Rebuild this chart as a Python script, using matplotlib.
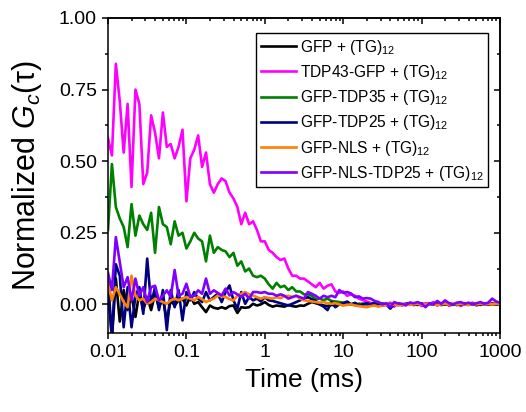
import numpy as np
import matplotlib
matplotlib.use("Agg")
import matplotlib.pyplot as plt
from matplotlib.ticker import MultipleLocator, FuncFormatter, FormatStrFormatter

plt.rcParams['font.family'] = ['Liberation Sans', 'DejaVu Sans']
plt.rcParams['mathtext.fontset'] = 'custom'
plt.rcParams['mathtext.rm'] = 'Liberation Sans'
plt.rcParams['mathtext.it'] = 'Liberation Sans:italic'

# lag time grid (ms), 20 points per decade from 0.01 to 1000 ms
tau = np.logspace(-2, 3, 101)

labels = ['GFP + (TG)$_{12}$', 'TDP43-GFP + (TG)$_{12}$', 'GFP-TDP35 + (TG)$_{12}$',
          'GFP-TDP25 + (TG)$_{12}$', 'GFP-NLS + (TG)$_{12}$', 'GFP-NLS-TDP25 + (TG)$_{12}$']
colors = ['#000000', '#FF00FF', '#008000', '#000080', '#FF8000', '#8000FF']

gfp = [0.06, -0.12, 0.09, -0.06, 0.05, -0.02, 0.03, -0.044, 0.043, -0.02,
       0.026, -0.02, 0.037, -0.01, 0.02, -0.056, 0.014, -0.004, 0.014, 0.02,
       -0.004, 0.03, 0.002, 0.008, -0.01, -0.027, -0.004, -0.012, -0.015, -0.01,
       -0.015, -0.006, -0.004, -0.03, -0.01, -0.012, -0.01, 0.002, -0.004, 0.0,
       0.008, -0.002, -0.008, -0.004, -0.006, -0.008, -0.002, -0.006, -0.008, -0.004,
       -0.005, 0.002, 0.008, 0.004, 0.0, -0.004, -0.006, -0.002, -0.004, 0.0,
       -0.002, 0.002, 0.0, -0.002, 0.002, 0.0, 0.002, -0.002, 0.0, 0.002,
       0.0, -0.002, 0.002, 0.0, 0.002, -0.002, 0.0, 0.002, 0.0, -0.002,
       0.002, 0.0, 0.002, 0.0, -0.002, 0.002, 0.0, 0.002, 0.0, -0.002,
       0.0, 0.002, 0.0, 0.002, -0.002, 0.0, 0.002, 0.0, 0.002, 0.0,
       0.002]

tdp43 = [0.58, 0.52, 0.84, 0.71, 0.53, 0.70, 0.41, 0.75, 0.70, 0.42,
         0.46, 0.66, 0.60, 0.51, 0.67, 0.55, 0.56, 0.51, 0.55, 0.61,
         0.36, 0.51, 0.54, 0.59, 0.48, 0.53, 0.42, 0.39, 0.42, 0.44,
         0.43, 0.39, 0.37, 0.34, 0.28, 0.32, 0.28, 0.29, 0.26, 0.22,
         0.22, 0.19, 0.18, 0.165, 0.155, 0.16, 0.125, 0.10, 0.10, 0.09,
         0.09, 0.08, 0.07, 0.06, 0.075, 0.055, 0.065, 0.07, 0.045, 0.04,
         0.045, 0.03, 0.035, 0.03, 0.02, 0.015, 0.01, 0.005, 0.0, 0.008,
         -0.005, 0.0, 0.006, -0.008, 0.004, 0.0, -0.004, 0.006, 0.0, 0.005,
         -0.006, 0.004, 0.0, 0.008, -0.004, 0.002, 0.006, -0.005, 0.0, 0.004,
         -0.006, 0.003, 0.0, 0.006, -0.004, 0.002, 0.004, -0.002, 0.003, 0.0,
         0.008]

tdp35 = [0.26, 0.49, 0.34, 0.30, 0.27, 0.20, 0.35, 0.24, 0.31, 0.28,
         0.26, 0.32, 0.18, 0.34, 0.28, 0.27, 0.21, 0.29, 0.24, 0.25,
         0.195, 0.22, 0.25, 0.23, 0.22, 0.15, 0.24, 0.18, 0.20, 0.19,
         0.185, 0.165, 0.18, 0.135, 0.15, 0.115, 0.125, 0.10, 0.095, 0.10,
         0.09, 0.07, 0.055, 0.075, 0.06, 0.065, 0.05, 0.06, 0.045, 0.045,
         0.035, 0.035, 0.03, 0.018, 0.02, 0.015, 0.02, 0.012, 0.01, 0.008,
         0.006, 0.004, 0.0, 0.005, -0.002, 0.003, 0.0, -0.003, 0.002, 0.0,
         0.003, -0.002, 0.0, 0.002, -0.003, 0.0, 0.002, 0.0, -0.002, 0.003,
         0.0, -0.002, 0.002, 0.0, 0.003, -0.002, 0.0, 0.002, 0.0, -0.002,
         0.002, 0.0, 0.003, 0.0, -0.002, 0.002, 0.0, 0.002, 0.0, 0.002,
         0.0]

tdp25 = [0.09, -0.12, 0.14, 0.10, -0.08, 0.06, -0.08, 0.03, 0.06, -0.033,
         0.16, 0.0, 0.06, -0.02, 0.05, -0.09, 0.05, -0.01, 0.05, -0.056,
         0.043, 0.014, 0.043, 0.02, 0.008, 0.043, 0.014, 0.026, 0.037, 0.008,
         0.043, 0.066, 0.014, -0.015, 0.043, 0.002, 0.026, 0.014, 0.02, 0.01,
         0.025, 0.014, 0.012, 0.008, 0.004, 0.0, -0.004, 0.002, 0.008, 0.014,
         0.02, 0.025, 0.018, 0.012, 0.0, -0.008, -0.02, 0.008, -0.01, 0.0,
         0.004, 0.01, 0.0, 0.005, -0.004, 0.0, 0.004, 0.0, 0.006, -0.004,
         0.002, 0.0, -0.015, 0.0, 0.004, -0.003, 0.002, 0.004, -0.002, 0.0,
         0.003, -0.002, 0.002, 0.0, 0.004, -0.002, 0.0, 0.003, -0.002, 0.002,
         0.0, 0.002, -0.002, 0.003, 0.0, -0.002, 0.002, 0.0, 0.002, 0.0,
         0.002]

nls = [0.072, 0.014, 0.06, 0.035, 0.008, -0.01, 0.10, 0.03, 0.014, 0.02,
       0.002, 0.008, 0.02, 0.014, 0.008, 0.002, 0.014, 0.02, 0.014, 0.02,
       0.026, 0.02, 0.014, 0.026, 0.018, 0.008, 0.015, 0.02, 0.031, 0.028,
       0.026, 0.018, 0.014, 0.03, 0.037, 0.043, 0.035, 0.031, 0.025, 0.02,
       0.025, 0.022, 0.02, 0.025, 0.022, 0.028, 0.03, 0.026, 0.03, 0.02,
       0.014, 0.012, 0.01, 0.008, 0.006, 0.008, 0.004, 0.002, 0.004, 0.0,
       -0.004, -0.002, 0.0, -0.004, -0.006, -0.008, -0.01, -0.006, -0.004, -0.008,
       -0.004, -0.002, -0.004, 0.0, -0.002, -0.004, 0.0, -0.002, 0.0, 0.002,
       -0.002, 0.0, 0.002, 0.0, -0.002, 0.0, 0.002, 0.0, 0.002, 0.0,
       0.002, 0.0, -0.002, 0.002, 0.0, 0.002, 0.0, 0.002, 0.0, 0.002,
       0.002]

nls_tdp25 = [0.11, 0.05, 0.235, 0.148, 0.06, 0.095, 0.014, 0.09, 0.03, 0.06,
             0.008, 0.06, 0.065, 0.014, 0.03, 0.049, 0.026, 0.12, 0.03, 0.037,
             0.072, 0.026, 0.03, 0.049, 0.037, 0.09, 0.037, 0.049, 0.04, 0.031,
             0.055, 0.031, 0.043, 0.035, 0.026, 0.037, 0.02, 0.043, 0.043, 0.04,
             0.043, 0.037, 0.037, 0.03, 0.035, 0.03, 0.02, 0.025, 0.03, 0.025,
             0.02, 0.043, 0.037, 0.03, 0.02, 0.03, 0.025, 0.03, 0.025, 0.05,
             0.04, 0.043, 0.038, 0.025, 0.028, 0.02, 0.022, 0.02, 0.012, 0.008,
             0.0, 0.004, -0.01, 0.008, 0.003, 0.002, -0.002, 0.006, 0.004, 0.008,
             0.002, -0.01, 0.004, 0.0, 0.012, 0.002, 0.014, 0.004, 0.0, 0.006,
             0.008, 0.002, 0.006, 0.0, 0.004, 0.008, 0.002, 0.006, 0.02, 0.01,
             0.006]

series = [gfp, tdp43, tdp35, tdp25, nls, nls_tdp25]

fig = plt.figure(figsize=(5.26, 4.12), dpi=100)
ax = fig.add_axes([108/526, 1-333/412, 392/526, 315/412])

for vals, lab, col in zip(series, labels, colors):
    ax.plot(tau, vals, color=col, lw=1.9, label=lab)

ax.set_xscale('log')
ax.set_xlim(0.01, 1000)
ax.set_ylim(-0.1, 1.0)
ax.yaxis.set_major_locator(MultipleLocator(0.25))
ax.yaxis.set_minor_locator(MultipleLocator(0.125))
ax.yaxis.set_major_formatter(FormatStrFormatter('%.2f'))
ax.xaxis.set_major_formatter(FuncFormatter(lambda v, p: '%g' % v))

for s in ax.spines.values():
    s.set_linewidth(1.1)

ax.tick_params(which='both', direction='out', top=False, right=False, width=1.1, labelsize=14)
ax.tick_params(which='major', length=4.5)
ax.tick_params(which='minor', length=2.5)

secx = ax.secondary_xaxis('top')
secx.tick_params(which='both', direction='in', labeltop=False, width=1.1)
secx.tick_params(which='major', length=4.5)
secx.tick_params(which='minor', length=2.5)
secx.spines['top'].set_linewidth(1.1)

secy = ax.secondary_yaxis('right')
secy.yaxis.set_major_locator(MultipleLocator(0.25))
secy.yaxis.set_minor_locator(MultipleLocator(0.125))
secy.tick_params(which='both', direction='in', labelright=False, width=1.1)
secy.tick_params(which='major', length=4.5)
secy.tick_params(which='minor', length=2.5)
secy.spines['right'].set_linewidth(1.1)

ax.set_xlabel('Time (ms)', fontsize=19, labelpad=5)
ax.set_ylabel('Normalized $G_c$(τ)', fontsize=22, labelpad=11)

leg = ax.legend(loc='upper right', bbox_to_anchor=((488-108)/392, (333-33)/315),
                fontsize=11.2, frameon=True, fancybox=False, framealpha=1,
                edgecolor='black', handlelength=2.3, handletextpad=0.2,
                borderpad=0.3, labelspacing=0.4, borderaxespad=0)
leg.get_frame().set_linewidth(1.0)
for h in leg.get_lines():
    h.set_linewidth(1.9)

fig.savefig('out.png', dpi=100)
